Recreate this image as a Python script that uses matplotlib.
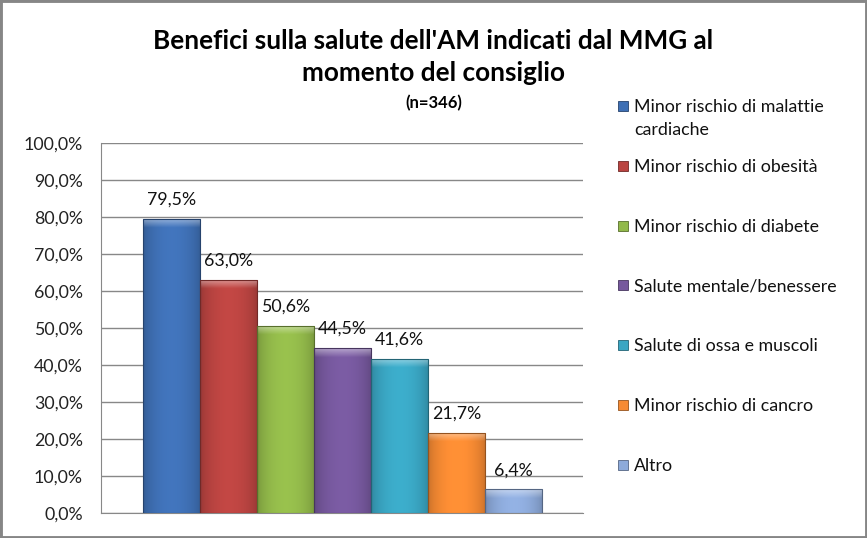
import matplotlib
matplotlib.use('Agg')
import matplotlib.pyplot as plt
import numpy as np
from matplotlib.colors import to_rgb
from matplotlib.patches import Rectangle

# dati del grafico
categorie = ['Minor rischio di malattie\ncardiache', 'Minor rischio di obesità',
             'Minor rischio di diabete', 'Salute mentale/benessere',
             'Salute di ossa e muscoli', 'Minor rischio di cancro', 'Altro']
valori = [79.5, 63.0, 50.6, 44.5, 41.6, 21.7, 6.4]
colori = ['#3F70B5', '#BA4441', '#92B94A', '#76589D', '#3AA6C3', '#F68A33', '#8DAADA']
y_ticks = [0, 10, 20, 30, 40, 50, 60, 70, 80, 90, 100]
titolo = "Benefici sulla salute dell'AM indicati dal MMG al\nmomento del consiglio"
sottotitolo = '(n=346)'

plt.rcParams['font.family'] = ['Lato', 'DejaVu Sans']
fs = 12.8

fig = plt.figure(figsize=(8.67, 5.38), dpi=100)
ax = fig.add_axes([0.1165, 0.0465, 0.5559, 0.6883])

x = np.arange(len(valori))
bars = ax.bar(x, valori, width=1.0, color=colori, zorder=2)

ax.set_xlim(-0.5 - 0.73, len(valori) - 0.5 + 0.71)
ax.set_ylim(0, 100)
ax.set_yticks(y_ticks)
ax.set_yticklabels([('%.1f%%' % v).replace('.', ',') for v in y_ticks],
                   fontsize=fs, color='#222222')
ax.set_xticks([])
ax.tick_params(axis='y', length=0, pad=13)
ax.yaxis.grid(True, color='#888888', linewidth=1)
ax.set_axisbelow(True)
for s in ['top', 'right']:
    ax.spines[s].set_visible(False)
ax.spines['left'].set_color('#888888')
ax.spines['bottom'].set_color('#888888')

# effetto "smusso" stile excel: gradiente orizzontale + bordo alto chiaro
fig.canvas.draw()
px_y = 100 / ax.get_window_extent().height  # unita dati per pixel
t = np.linspace(0, 1, 60)
shade = 0.8 + 0.25 * np.sin(np.pi * t) ** 0.6
for b, c in zip(bars, colori):
    rgb = np.array(to_rgb(c))
    h = b.get_height()
    ny = 300
    img = np.ones((ny, len(t), 3)) * rgb
    img = img * shade[None, :, None]
    yy = np.linspace(h, 0, ny)
    d = (h - yy) / px_y  # distanza dal bordo alto in pixel
    w = np.clip(1 - d / 9, 0, 1) * 0.45
    img = img * (1 - w[:, None, None]) + w[:, None, None]
    img = np.clip(img, 0, 1)
    im = ax.imshow(img, extent=(b.get_x(), b.get_x() + b.get_width(), 0, h),
                   aspect='auto', zorder=3, interpolation='bilinear')
    im.set_clip_path(b)
    b.set_edgecolor(rgb * 0.6)
    b.set_linewidth(0.8)
    b.set_zorder(4)
    b.set_facecolor('none')
    ax.text(b.get_x() + b.get_width() / 2, h + 3, ('%.1f%%' % h).replace('.', ','),
            ha='center', va='bottom', fontsize=fs, color='#111111', zorder=5)

# titolo
fig.text(0.5, 1 - 57 / 538, titolo, ha='center', va='center', fontsize=18.8,
         fontweight='bold', linespacing=1.4)
fig.text(0.5, 1 - 103 / 538, sottotitolo, ha='center', va='center', fontsize=12,
         fontweight='bold')

# legenda
for i, (lab, c) in enumerate(zip(categorie, colori)):
    yc = 106 + i * 59.8
    fig.add_artist(Rectangle((618 / 867, 1 - (yc + 5) / 538), 10 / 867, 10 / 538,
                             transform=fig.transFigure, facecolor=c,
                             edgecolor=np.array(to_rgb(c)) * 0.6, lw=0.6))
    fig.text(634 / 867, 1 - (yc - 7) / 538, lab, ha='left', va='top', fontsize=fs,
             color='#111111', linespacing=1.55)

# cornice
fig.add_artist(Rectangle((0, 0), 1, 1, transform=fig.transFigure, fill=False,
                         lw=3.5, edgecolor='#868686'))

plt.savefig('out.png', dpi=100)
